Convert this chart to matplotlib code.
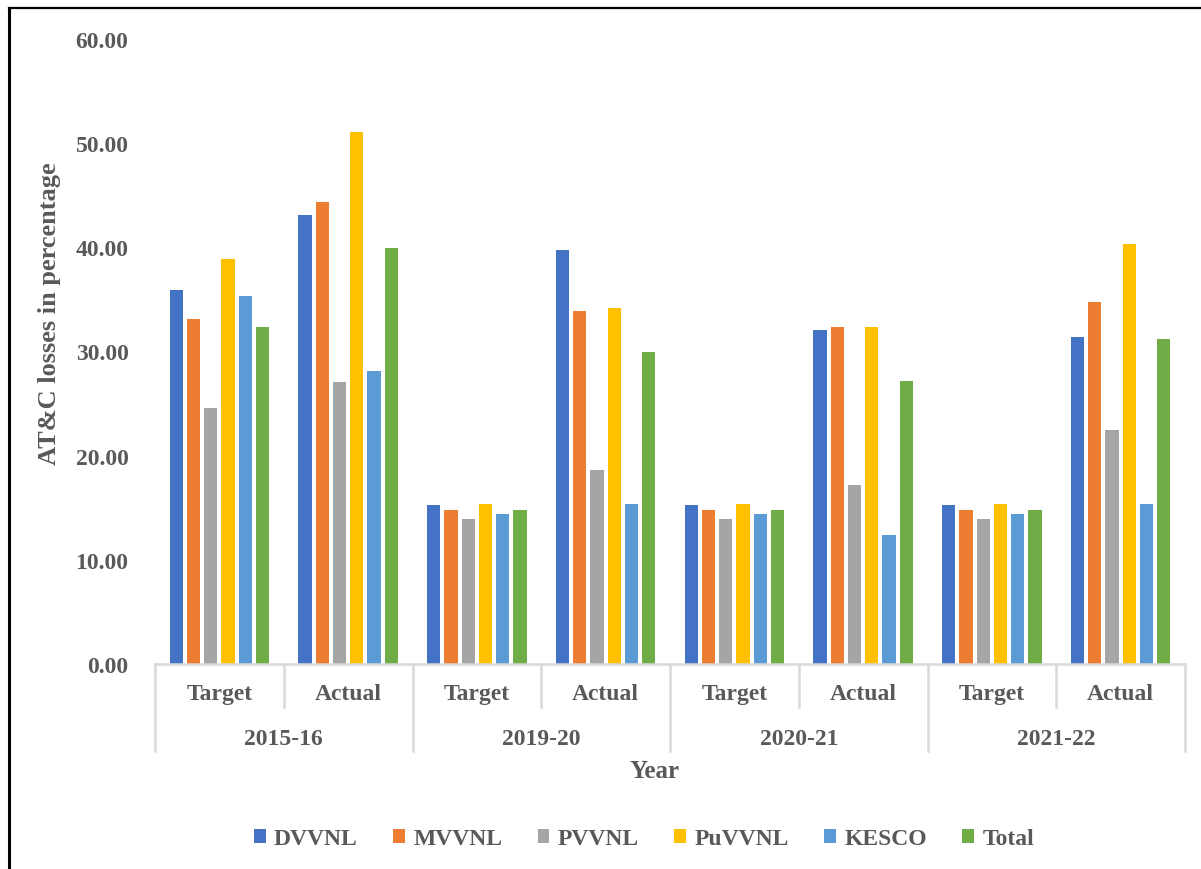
import numpy as np
import matplotlib
matplotlib.use('Agg')
import matplotlib.pyplot as plt
from matplotlib.lines import Line2D

# data (AT&C losses, %)
years = ['2015-16', '2019-20', '2020-21', '2021-22']
kinds = ['Target', 'Actual']
discoms = ['DVVNL', 'MVVNL', 'PVVNL', 'PuVVNL', 'KESCO', 'Total']

DVVNL = [35.9, 43.1, 15.3, 39.7, 15.3, 32.1, 15.3, 31.4]
MVVNL = [33.1, 44.4, 14.8, 33.9, 14.8, 32.4, 14.8, 34.8]
PVVNL = [24.6, 27.1, 13.9, 18.6, 13.9, 17.2, 13.9, 22.5]
PuVVNL = [38.9, 51.1, 15.4, 34.2, 15.4, 32.4, 15.4, 40.3]
KESCO = [35.3, 28.1, 14.4, 15.4, 14.4, 12.4, 14.4, 15.4]
Total = [32.4, 39.9, 14.8, 30.0, 14.8, 27.2, 14.8, 31.2]

series = [DVVNL, MVVNL, PVVNL, PuVVNL, KESCO, Total]
colors = ['#4472C4', '#ED7D31', '#A5A5A5', '#FFC000', '#5B9BD5', '#70AD47']

txt = '#595959'
grid_col = '#D9D9D9'
plt.rcParams['font.family'] = ['Liberation Serif', 'DejaVu Serif']
plt.rcParams['font.weight'] = 'bold'

fig = plt.figure(figsize=(12.01, 8.70), dpi=100)
ax = fig.add_axes([155/1201, 1-665/870, (1185-155)/1201, (665-40)/870])

n = len(DVVNL)
index = np.arange(n)
pitch = 0.134
bar_width = 0.104
for k in range(len(series)):
    off = (k - 2.5)*pitch
    ax.bar(index+off, series[k], bar_width, color=colors[k], label=discoms[k], zorder=3)

ax.set_xlim(-0.5, n-0.5)
ax.set_ylim(0, 60)
ax.set_yticks(np.arange(0, 61, 10))
ax.set_yticklabels(['{:.2f}'.format(v) for v in np.arange(0, 61, 10)],
                   fontsize=17, fontweight='bold', color=txt)
ax.tick_params(axis='y', length=0, pad=19)
ax.set_xticks([])
for s in ['top', 'right', 'left', 'bottom']:
    ax.spines[s].set_visible(False)

# two-level category axis drawn by hand
ax.plot([-0.5, n-0.5], [0, 0], color=grid_col, lw=1.8, clip_on=False, zorder=4)
trans = ax.get_xaxis_transform()
for I in range(n+1):
    x = I - 0.5
    if I % 2 == 0:
        y_end = -(752-665)/625
    else:
        y_end = -(708-665)/625
    ax.add_line(Line2D([x, x], [0, y_end], transform=trans, color=grid_col,
                       lw=1.8, clip_on=False))

for I in range(n):
    ax.text(I, -(695-665)/625, kinds[I % 2], transform=trans, ha='center', va='center',
            fontsize=17, fontweight='bold', color=txt)
for J in range(len(years)):
    ax.text(2*J+0.5, -(740-665)/625, years[J], transform=trans, ha='center', va='center',
            fontsize=17, fontweight='bold', color=txt)

fig.text(655/1201, 1-772/870, 'Year', ha='center', va='center',
         fontsize=18, fontweight='bold', color=txt)
fig.text(50/1201, 1-314/870, 'AT&C losses in percentage', ha='center', va='center',
         rotation=90, fontsize=19, fontweight='bold', color=txt)

leg = fig.legend(loc='center', bbox_to_anchor=(644/1201, 1-840/870), ncol=6,
                 frameon=False, fontsize=17, handlelength=0.5, handleheight=0.5,
                 handletextpad=0.35, columnspacing=1.5, borderaxespad=0)
for t in leg.get_texts():
    t.set_color(txt)
    t.set_fontweight('bold')

# figure frame (left and top edges are visible)
fig.add_artist(Line2D([9/1201, 9/1201], [0, 1-9/870], color='black', lw=2.2))
fig.add_artist(Line2D([9/1201, 1], [1-9/870, 1-9/870], color='black', lw=1.6))

plt.savefig('out.png', dpi=100)
